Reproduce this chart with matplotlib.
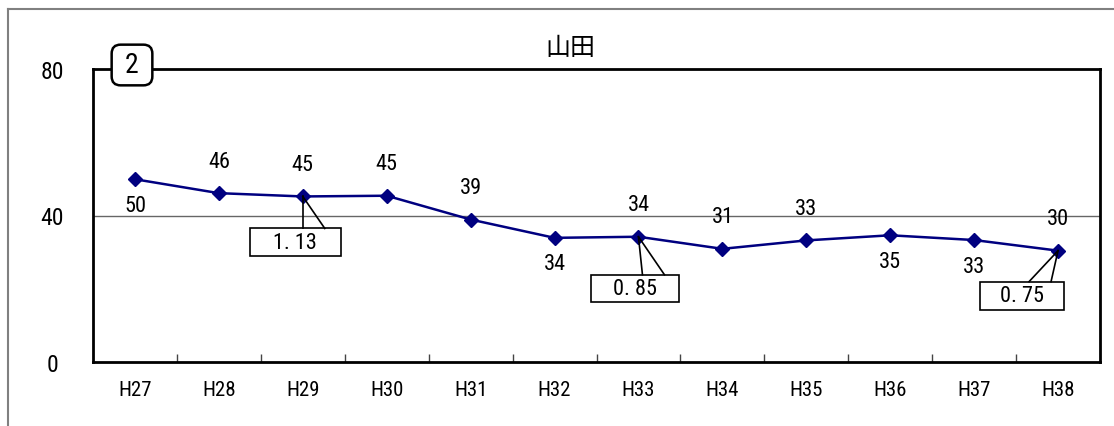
import matplotlib
matplotlib.use("Agg")
import matplotlib.pyplot as plt
from matplotlib.patches import FancyBboxPatch, Rectangle
from matplotlib.lines import Line2D
from matplotlib import font_manager

names = {f.name for f in font_manager.fontManager.ttflist}
narrow = "Roboto"
for cand in ["Liberation Sans Narrow", "Roboto Condensed", "Open Sans Condensed", "Noto Sans Condensed"]:
    if cand in names:
        narrow = cand
        break
plt.rcParams['font.family'] = [narrow, 'Noto Sans CJK JP', 'DejaVu Sans']

categories = ["H27", "H28", "H29", "H30", "H31", "H32", "H33", "H34", "H35", "H36", "H37", "H38"]
values = [49.9, 46.1, 45.2, 45.4, 38.9, 33.9, 34.2, 30.9, 33.2, 34.6, 33.3, 30.4]
labels = ["50", "46", "45", "45", "39", "34", "34", "31", "33", "35", "33", "30"]
label_above = [False, True, True, True, True, False, True, True, True, False, False, True]
yticks = [0, 40, 80]
title = "山田"
panel_no = "2"
# callouts: (category index, text)
callout_idx = [2, 6, 11]
callout_txt = ["1. 13", "0. 85", "0. 75"]

W, H = 1114, 427
fig = plt.figure(figsize=(W / 100, H / 100), dpi=100)

def fx(px):
    return px / W

def fy(py):
    return 1 - py / H

# outer frame (cropped)
fig.add_artist(Line2D([fx(8), fx(1114)], [fy(10), fy(10)], color="#808080", lw=1.5))
fig.add_artist(Line2D([fx(8), fx(8)], [fy(10), fy(427)], color="#808080", lw=1.5))

ax = fig.add_axes([fx(93), fy(363), fx(1100) - fx(93), fy(70) - fy(363)])
x = list(range(len(categories)))
ax.set_xlim(-0.5, len(categories) - 0.5)
ax.set_ylim(0, 80)
ax.axhline(40, color="#666666", lw=1.0, zorder=1)
ax.plot(x, values, color="#000080", lw=1.8, marker="D", markersize=7,
        markerfacecolor="#000080", markeredgecolor="#000080", zorder=3)

for s in ax.spines.values():
    s.set_color("black")
    s.set_linewidth(2)

ax.set_yticks(yticks)
ax.set_yticklabels([str(v) for v in yticks], fontsize=17, ha="center")
ax.tick_params(axis="y", length=0, pad=29.5, labelsize=17)
ax.set_xticks(x)
ax.set_xticklabels(categories, fontsize=15)
ax.tick_params(axis="x", length=0, pad=13, labelsize=15)
ax.set_xticks([i + 0.5 for i in range(len(categories) - 1)], minor=True)
ax.tick_params(axis="x", which="minor", direction="in", length=6, width=1, color="#444444")

for xi, v, lab, up in zip(x, values, labels, label_above):
    ax.annotate(lab, (xi, v), xytext=(0, 32 if up else -26), textcoords="offset pixels",
                ha="center", va="center", fontsize=16, zorder=4)

# callouts in pixel geometry relative to marker
box_geom = [
    # (dx_left, dy_top, width, height, lead1_dx, lead2_dx) in pixels relative to marker
    (-53, 32, 91, 28, 0, 22),
    (-47, 38, 88, 27, 4, 26),
    (-78, 31, 84, 28, -29, -7),
]
for idx, txt, g in zip(callout_idx, callout_txt, box_geom):
    mx, my = ax.transData.transform((idx, values[idx]))
    my_px = H - my
    dxl, dyt, bw, bh, l1, l2 = g
    top = my_px + dyt
    left = mx + dxl
    fig.add_artist(Rectangle((fx(left), fy(top + bh)), bw / W, bh / H,
                             facecolor="white", edgecolor="black", lw=1.2, zorder=5))
    fig.add_artist(Line2D([fx(mx), fx(mx + l1)], [fy(my_px), fy(top)], color="black", lw=1.2, zorder=6))
    fig.add_artist(Line2D([fx(mx), fx(mx + l2)], [fy(my_px), fy(top)], color="black", lw=1.2, zorder=6))
    fig.text(fx(left + bw / 2), fy(top + bh / 2), txt, ha="center", va="center", fontsize=16, zorder=7)

# title
fig.text(fx(570), fy(48), title, ha="center", va="center", fontsize=18)

# panel number box
fig.add_artist(FancyBboxPatch((fx(115), fy(83)), (149 - 115) / W, (83 - 49) / H,
                              boxstyle="round,pad=0.003,rounding_size=0.008",
                              facecolor="white", edgecolor="black", lw=1.8, zorder=10,
                              mutation_aspect=W / H))
fig.text(fx(132), fy(66), panel_no, ha="center", va="center", fontsize=20, zorder=11)

fig.savefig("out.png", dpi=100)
